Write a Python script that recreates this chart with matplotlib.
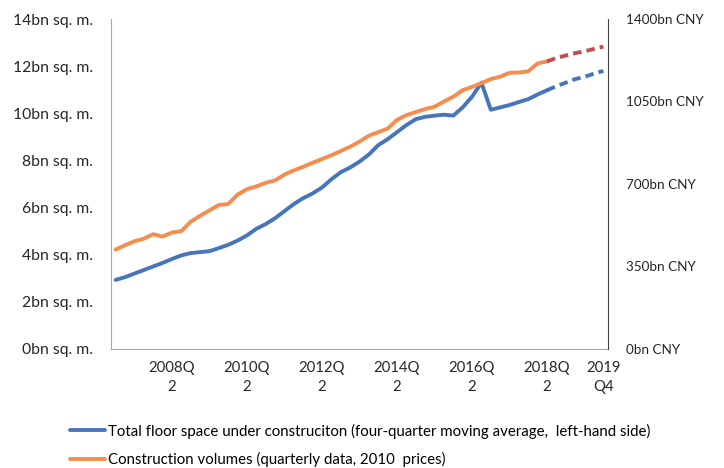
import matplotlib.pyplot as plt
import numpy as np

# quarters 2006Q4 .. 2019Q4
quarters = [f"{y}Q{q}" for y in range(2006, 2020) for q in range(1, 5)][3:]
tick_quarters = ["2008Q2", "2010Q2", "2012Q2", "2014Q2", "2016Q2", "2018Q2", "2019Q4"]
tick_labels = ["2008Q\n2", "2010Q\n2", "2012Q\n2", "2014Q\n2", "2016Q\n2", "2018Q\n2", "2019\nQ4"]

# bn sq. m. (left axis)
floor_space = [2.93, 3.05, 3.2, 3.35, 3.5, 3.65, 3.82, 3.97, 4.07, 4.11,
               4.15, 4.28, 4.42, 4.6, 4.82, 5.1, 5.3, 5.55, 5.85, 6.15,
               6.4, 6.6, 6.85, 7.2, 7.5, 7.7, 7.95, 8.25, 8.65, 8.9,
               9.2, 9.5, 9.75, 9.85, 9.9, 9.94, 9.9, 10.25, 10.7, 11.3,
               10.15, 10.25, 10.35, 10.48, 10.6, 10.8, 10.98, 11.15, 11.3, 11.45,
               11.55, 11.68, 11.8]
# bn CNY (right axis)
volumes = [422, 440, 457, 468, 487, 477, 494, 500, 540, 565,
           588, 611, 615, 655, 678, 690, 705, 715, 740, 758,
           773, 790, 806, 822, 840, 858, 880, 905, 920, 935,
           972, 992, 1005, 1018, 1028, 1050, 1070, 1098, 1112, 1128,
           1145, 1155, 1172, 1173, 1178, 1212, 1220, 1235, 1245, 1255,
           1263, 1273, 1283]
forecast_from = "2018Q2"

blue = "#4675BC"
orange = "#F58D4E"
red = "#C0504D"

plt.rcParams['font.family'] = ['Lato', 'DejaVu Sans']

fig = plt.figure(figsize=(7.24, 4.68), dpi=100)
ax = fig.add_axes([0.1533, 0.2543, 0.6865, 0.7051])
ax2 = ax.twinx()

x = np.arange(len(quarters))
k = quarters.index(forecast_from)

l1, = ax.plot(x[:k + 1], floor_space[:k + 1], color=blue, lw=2.8,
              solid_capstyle='round',
              label="Total floor space under construciton (four-quarter moving average,  left-hand side)")
ax.plot(x[k:], floor_space[k:], color=blue, lw=2.8, ls=(0, (2.2, 1.3)))
l2, = ax2.plot(x[:k + 1], volumes[:k + 1], color=orange, lw=2.8,
               solid_capstyle='round',
               label="Construction volumes (quarterly data, 2010  prices)")
ax2.plot(x[k:], volumes[k:], color=red, lw=2.8, ls=(0, (2.2, 1.3)))

ax.set_xlim(-0.5, len(quarters) - 0.5)
ax.set_ylim(0, 14)
ax2.set_ylim(0, 1400)
ax.set_yticks(np.arange(0, 15, 2))
ax.set_yticklabels([f"{v}bn sq. m." for v in range(0, 15, 2)], fontsize=11.3, color="#262626")
ax2.set_yticks([0, 350, 700, 1050, 1400])
ax2.set_yticklabels([f"{v}bn CNY" for v in [0, 350, 700, 1050, 1400]], fontsize=9.7, color="#262626")
ax.set_xticks([quarters.index(q) for q in tick_quarters])
ax.set_xticklabels(tick_labels, fontsize=10.7, color="#262626", linespacing=1.45)

ax.tick_params(axis='x', length=0, pad=9)
ax.tick_params(axis='y', length=0, pad=13)
ax2.tick_params(length=0, pad=13)

for a in (ax, ax2):
    a.spines['top'].set_visible(False)
ax.spines['left'].set_color("#A6A6A6")
ax.spines['bottom'].set_color("#A6A6A6")
ax.spines['right'].set_visible(False)
ax2.spines['left'].set_visible(False)
ax2.spines['bottom'].set_visible(False)
ax2.spines['right'].set_color("#404040")

fig.legend(handles=[l1, l2], loc='upper left', bbox_to_anchor=(0.0967, 0.095),
           frameon=False, fontsize=10.8, handlelength=2.3, handletextpad=0.2,
           labelspacing=0.9, borderpad=0, borderaxespad=0)

fig.savefig("out.png", dpi=100)
